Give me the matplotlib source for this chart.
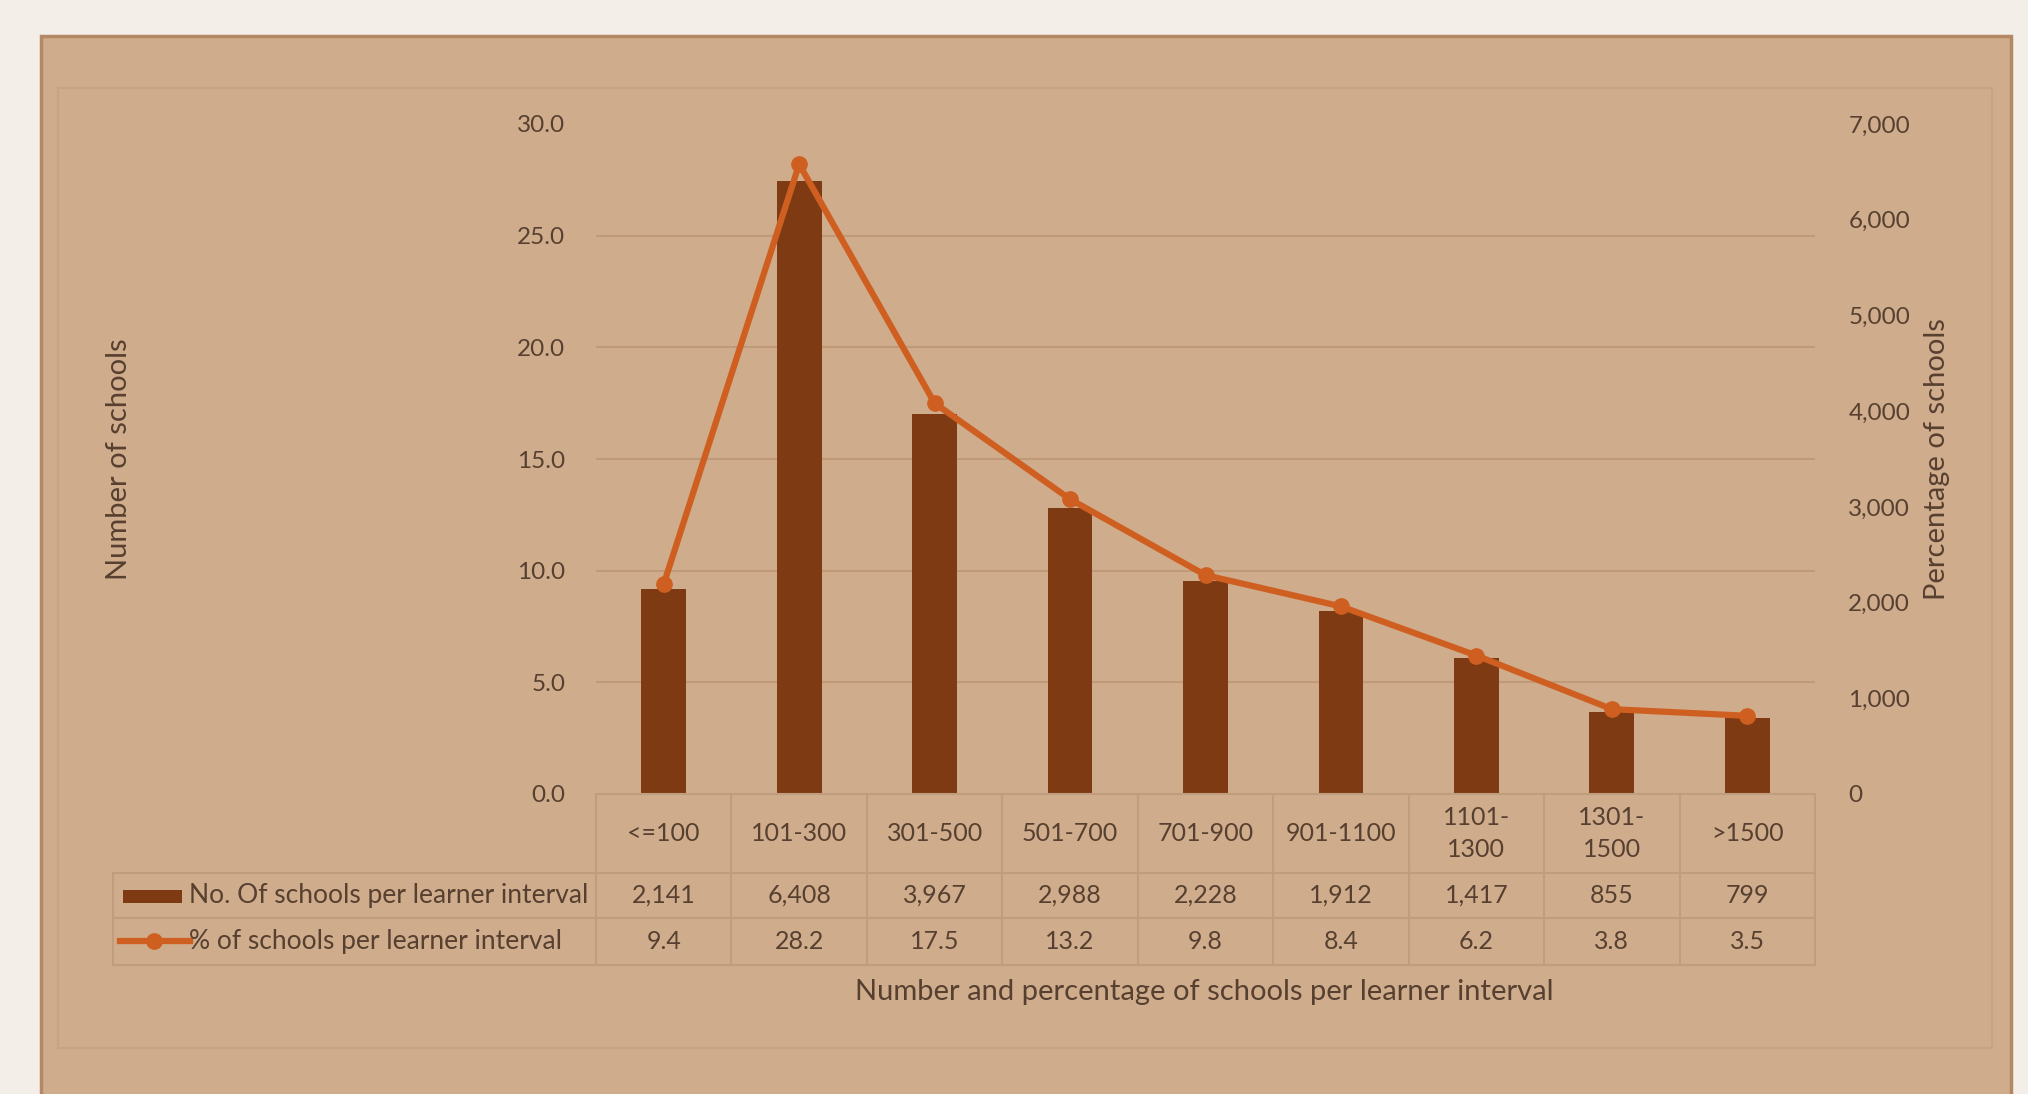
import numpy as np
import matplotlib
matplotlib.use('Agg')
import matplotlib.pyplot as plt
from matplotlib.patches import Rectangle
from matplotlib.lines import Line2D

# data
categories = ['<=100', '101-300', '301-500', '501-700', '701-900', '901-1100', '1101-\n1300', '1301-\n1500', '>1500']
school_counts = [2141, 6408, 3967, 2988, 2228, 1912, 1417, 855, 799]
school_pct = [9.4, 28.2, 17.5, 13.2, 9.8, 8.4, 6.2, 3.8, 3.5]
count_labels = ['2,141', '6,408', '3,967', '2,988', '2,228', '1,912', '1,417', '855', '799']
bar_name = 'No. Of schools per learner interval'
line_name = '% of schools per learner interval'

plt.rcParams['font.family'] = ['Lato', 'DejaVu Sans']
W, H = 2028, 1094
bg = '#cfac8c' ; txt = '#574030' ; grid_c = '#bf9978' ; cell_c = '#c09d7e'
bar_c = '#7e3b13' ; line_c = '#cf5f20'

fig = plt.figure(figsize=(W / 100, H / 100), dpi=100)
fig.patch.set_facecolor('#f4eee8')

def fx(px): return px / W
def fy(py): return 1 - py / H

# outer box and inner chart area
fig.patches.append(Rectangle((fx(41), fy(1094 + 5)), fx(2011) - fx(41), fy(36) - fy(1099),
                             transform=fig.transFigure, facecolor=bg, edgecolor='#b48865', lw=2.5, zorder=-2))
fig.patches.append(Rectangle((fx(58), fy(1048)), fx(1992) - fx(58), fy(88) - fy(1048),
                             transform=fig.transFigure, facecolor='none', edgecolor='#c5a385', lw=1.5, zorder=-1))

ax = fig.add_axes([fx(596), fy(794), fx(1815) - fx(596), fy(124) - fy(794)])
ax2 = ax.twinx()
x = np.arange(len(categories))
pct_ticks = np.arange(0, 30.1, 5)

ax2.bar(x, school_counts, width=0.33, color=bar_c, zorder=2)
ax2.set_ylim(0, 7000)
ax2.set_yticks(range(0, 7001, 1000))
ax2.set_yticklabels(['{:,}'.format(v) for v in range(0, 7001, 1000)])
# gridlines follow the left (percent) scale but sit behind the bars
ax2.set_yticks(pct_ticks[1:] / 30 * 7000, minor=True)
ax2.yaxis.grid(True, which='minor', color=grid_c, lw=1.5)
ax2.yaxis.grid(False, which='major')
ax2.set_axisbelow(True)

ax.plot(x, school_pct, color=line_c, lw=4.5, marker='o', ms=11, zorder=5)
ax.set_ylim(0, 30)
ax.set_yticks(pct_ticks)
ax.set_yticklabels(['{:.1f}'.format(v) for v in pct_ticks])
ax.set_xlim(-0.5, len(categories) - 0.5)
ax.set_xticks([])
ax.set_zorder(ax2.get_zorder() + 1)
ax.patch.set_visible(False)
ax2.patch.set_visible(False)

for a in (ax, ax2):
    for s in a.spines.values():
        s.set_visible(False)
    a.tick_params(which='both', length=0, labelsize=17.5, labelcolor=txt)
ax.tick_params(axis='y', pad=22)
ax2.tick_params(axis='y', pad=24)

# data table under the plot
tr = ax.get_xaxis_transform()
y_head, y_r1, y_r2 = -0.118, -0.185, -0.255
legend_left = -0.5 - (596 - 113) / 1219 * len(categories)
lk = dict(color=cell_c, lw=1.5, clip_on=False, transform=tr)
ax.plot([-0.5, len(categories) - 0.5], [0, 0], **lk)
ax.plot([legend_left, len(categories) - 0.5], [y_head, y_head], **lk)
ax.plot([legend_left, len(categories) - 0.5], [y_r1, y_r1], **lk)
ax.plot([legend_left, len(categories) - 0.5], [y_r2, y_r2], **lk)
ax.plot([legend_left, legend_left], [y_head, y_r2], **lk)
for b in np.arange(-0.5, len(categories), 1.0):
    ax.plot([b, b], [0, y_r2], **lk)

for i, c in enumerate(categories):
    ax.text(i, y_head / 2, c, transform=tr, ha='center', va='center', fontsize=18, color=txt, linespacing=1.45)
    ax.text(i, (y_head + y_r1) / 2, count_labels[i], transform=tr, ha='center', va='center', fontsize=18, color=txt)
    ax.text(i, (y_r1 + y_r2) / 2, '{:.1f}'.format(school_pct[i]), transform=tr, ha='center', va='center', fontsize=18, color=txt)

# legend keys inside the table
fig.patches.append(Rectangle((fx(123), fy(903)), fx(182) - fx(123), fy(890) - fy(903),
                             transform=fig.transFigure, facecolor=bar_c, edgecolor='none', zorder=3))
fig.lines.append(Line2D([fx(120), fx(190)], [fy(941), fy(941)], transform=fig.transFigure,
                        color=line_c, lw=4.5, zorder=3))
fig.lines.append(Line2D([fx(154)], [fy(941)], transform=fig.transFigure, color=line_c,
                        marker='o', ms=11, zorder=3))
fig.text(fx(189), fy(896), bar_name, ha='left', va='center', fontsize=19, color=txt)
fig.text(fx(189), fy(941), line_name, ha='left', va='center', fontsize=19, color=txt)

fig.text(fx(119), fy(459), 'Number of schools', rotation=90, ha='center', va='center', fontsize=21, color=txt)
fig.text(fx(1937), fy(459), 'Percentage of schools', rotation=90, ha='center', va='center', fontsize=21, color=txt)
fig.text(fx(1204), fy(992), 'Number and percentage of schools per learner interval', ha='center', va='center',
         fontsize=21, color=txt)

fig.savefig('out.png', dpi=100, facecolor=fig.get_facecolor())
